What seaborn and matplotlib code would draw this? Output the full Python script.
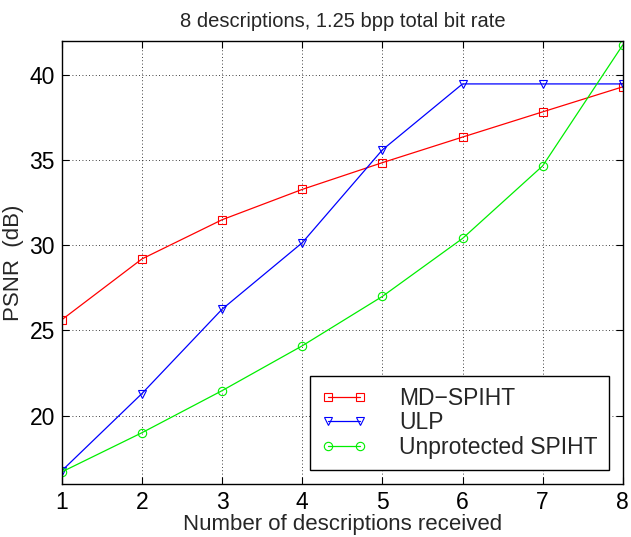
import matplotlib
matplotlib.use("Agg")
import matplotlib.pyplot as plt
import pandas as pd
import seaborn as sns

descriptions = [1, 2, 3, 4, 5, 6, 7, 8]
md_spiht = [25.63, 29.2, 31.5, 33.28, 34.85, 36.35, 37.83, 39.3]
ulp = [16.77, 21.3, 26.25, 30.15, 35.6, 39.47, 39.47, 39.47]
unprotected = [16.7, 19.0, 21.47, 24.1, 27.0, 30.4, 34.66, 41.76]

sns.set_style("ticks")
plt.rcParams['font.family'] = ['Liberation Sans', 'DejaVu Sans']

fig = plt.figure(figsize=(6.31, 5.37), dpi=100)
ax = fig.add_axes([0.098, 0.099, 0.889, 0.825])

series = [
    ("MD\u2212SPIHT", md_spiht, "#ff0000", "s"),
    ("ULP", ulp, "#0000ff", "v"),
    ("Unprotected SPIHT", unprotected, "#00ee00", "o"),
]
for name, vals, col, mk in series:
    df = pd.DataFrame({"x": descriptions, "y": vals})
    sns.lineplot(data=df, x="x", y="y", ax=ax, color=col, marker=mk,
                 markersize=6, markerfacecolor="none", markeredgecolor=col,
                 markeredgewidth=0.8, linewidth=0.9, label=name)

ax.set_xlim(1, 8)
ax.set_ylim(16, 42)
ax.set_xticks(descriptions)
ax.set_yticks([20, 25, 30, 35, 40])
ax.tick_params(direction="in", labelsize=16.5, length=5, width=0.8,
               top=True, right=True, colors="black", pad=5)
for sp in ax.spines.values():
    sp.set_visible(True)
    sp.set_color("black")
    sp.set_linewidth(1.0)
ax.grid(True, linestyle=(0, (1, 3)), color="black", linewidth=0.6)

ax.set_title("8 descriptions, 1.25 bpp total bit rate", fontsize=14.5, pad=10)
ax.set_xlabel("Number of descriptions received", fontsize=16, labelpad=0)
ax.set_ylabel("PSNR  (dB)", fontsize=16, labelpad=4)

leg = ax.legend(loc="lower right", numpoints=2, fontsize=16.5, frameon=True,
                fancybox=False, edgecolor="black", framealpha=1,
                handlelength=2.0, borderaxespad=0.6, handletextpad=1.4,
                labelspacing=0.05, borderpad=0.5)
leg.get_frame().set_linewidth(1.0)

fig.savefig("out.png", dpi=100)
